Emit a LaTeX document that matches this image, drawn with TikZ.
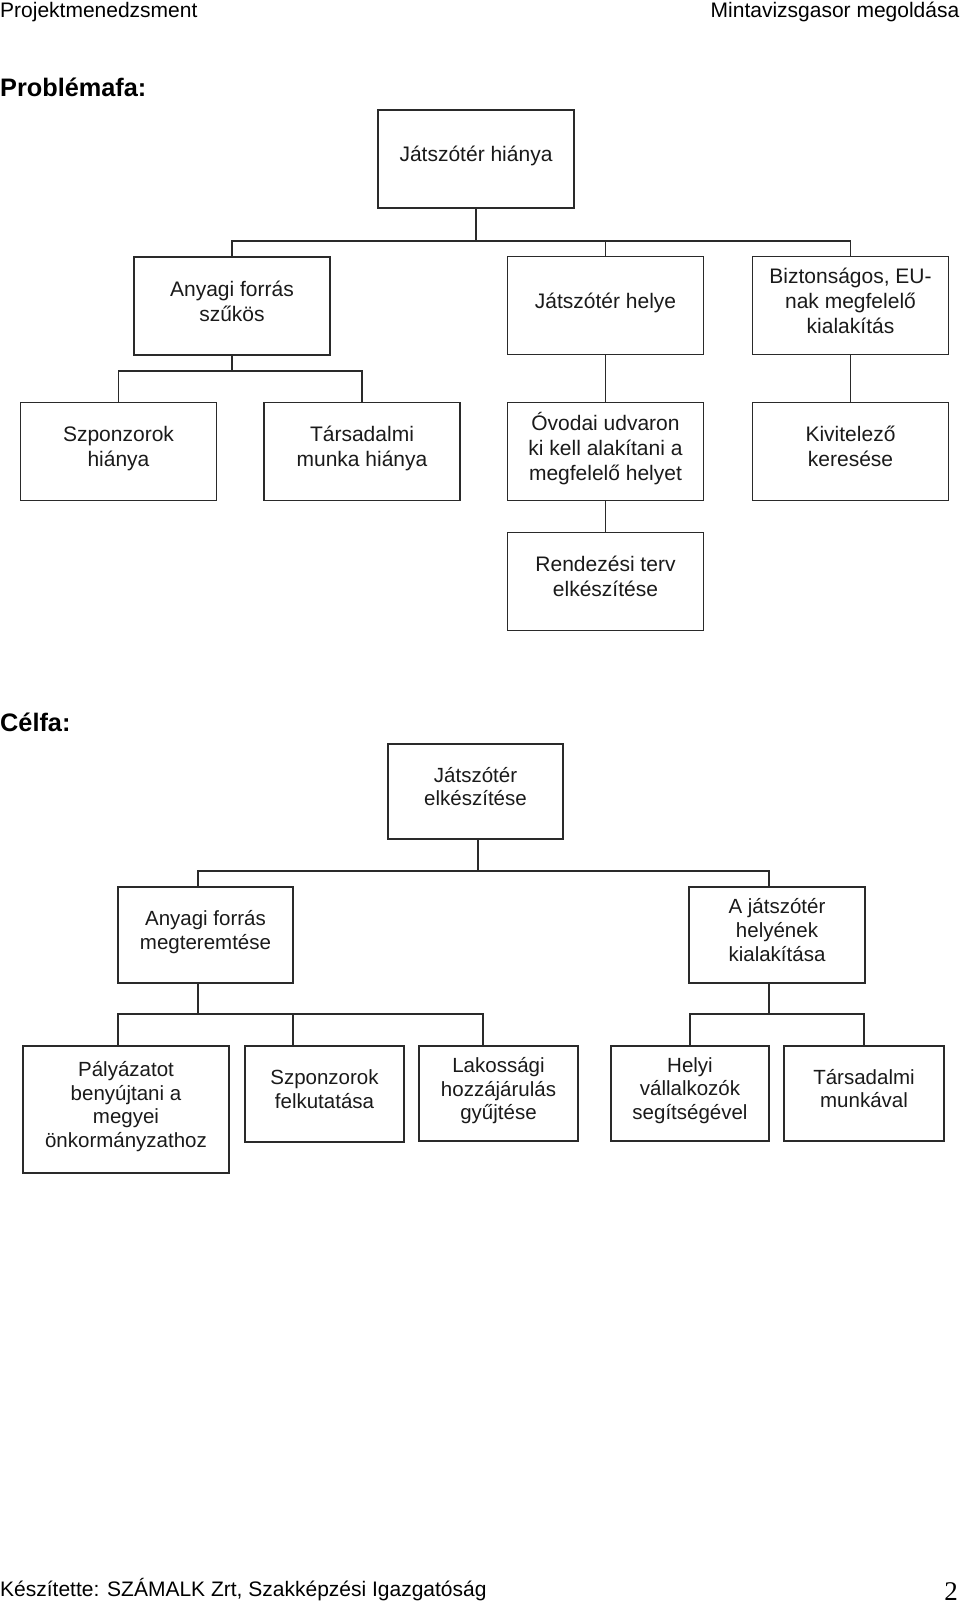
\documentclass[tikz,border=0pt]{standalone}
\usepackage{fontspec}
\setmainfont{Liberation Sans}
\newfontfamily\timesfont{Liberation Serif}
\definecolor{linec}{HTML}{2A2A2A}
\definecolor{txtc}{HTML}{1A1A1A}
\tikzset{
  pbox/.style={draw=linec, line width=1.4pt, minimum width=196pt, minimum height=98pt,
    inner sep=0pt, align=center, text=txtc, text depth=10pt, font=\fontsize{21}{25}\selectfont},
  cbox/.style={draw=linec, line width=1.4pt, inner sep=0pt, align=center, text=txtc,
    text depth=10pt, font=\fontsize{20.5}{23.8}\selectfont},
  conn/.style={draw=linec, line width=1.4pt},
  hdr/.style={anchor=base west, inner sep=0pt, text=black, font=\fontsize{21}{24}\selectfont},
  ttl/.style={anchor=base west, inner sep=0pt, text=black, font=\bfseries\fontsize{25.3}{30}\selectfont},
}
\begin{document}
\begin{tikzpicture}[x=1pt,y=-1pt]
\useasboundingbox (0,0) rectangle (960,1603);
\fill[white] (0,0) rectangle (960,1603);

% header / footer
\node[hdr] (h1) at (0,17.5) {Projektmenedzsment};
\node[hdr, anchor=base east] (h2) at (959.5,17.5) {Mintavizsgasor megoldása};
\node[ttl] (t1) at (0,96) {Problémafa:};
\node[ttl] (t2) at (0,731) {Célfa:};
\node[hdr] (f1) at (0,1596) {Készítette: SZÁMALK Zrt, Szakképzési Igazgatóság};
\node[anchor=base east, inner sep=0pt, font=\timesfont\fontsize{27}{30}\selectfont] (f2) at (958,1600) {2};

% ---------- Problémafa ----------
\node[pbox] (P0) at (476,159) {Játszótér hiánya};
\node[pbox] (P1) at (232,306) {Anyagi forrás\\szűkös};
\node[pbox] (P2) at (605.5,305.5) {Játszótér helye};
\node[pbox] (P3) at (850.5,305.5) {Biztonságos, EU-\\nak megfelelő\\kialakítás};
\node[pbox] (P11) at (118.5,451.5) {Szponzorok\\hiánya};
\node[pbox] (P12) at (362,451.5) {Társadalmi\\munka hiánya};
\node[pbox] (P21) at (605.5,451.5) {Óvodai udvaron\\ki kell alakítani a\\megfelelő helyet};
\node[pbox] (P31) at (850.5,451.5) {Kivitelező\\keresése};
\node[pbox] (P211) at (605.5,581.5) {Rendezési terv\\elkészítése};

\coordinate (pb0) at (476,241);
\coordinate (pb1) at (232,371);
\draw[conn] (P0.south) -- (pb0);
\draw[conn] (pb0) -| (P1.north);
\draw[conn] (pb0) -| (P3.north);
\draw[conn] (P2.north) -- (P2.north |- pb0);
\draw[conn] (P1.south) -- (pb1);
\draw[conn] (pb1) -| (P11.north);
\draw[conn] (pb1) -| (P12.north);
\draw[conn] (P2.south) -- (P21.north);
\draw[conn] (P21.south) -- (P211.north);
\draw[conn] (P3.south) -- (P31.north);

% ---------- Célfa ----------
\node[cbox, minimum width=175pt, minimum height=95pt] (C0) at (475.5,791.5) {Játszótér\\elkészítése};
\node[cbox, minimum width=175pt, minimum height=96pt] (C1) at (205.5,935) {Anyagi forrás\\megteremtése};
\node[cbox, minimum width=176pt, minimum height=96pt] (C2) at (777,935) {A játszótér\\helyének\\kialakítása};
\node[cbox, minimum width=206pt, minimum height=127pt] (C11) at (126,1109.5) {Pályázatot\\benyújtani a\\megyei\\önkormányzathoz};
\node[cbox, minimum width=159pt, minimum height=96pt] (C12) at (324.5,1094) {Szponzorok\\felkutatása};
\node[cbox, minimum width=159pt, minimum height=95pt] (C13) at (498.5,1093.5) {Lakossági\\hozzájárulás\\gyűjtése};
\node[cbox, minimum width=158pt, minimum height=95pt] (C21) at (690,1093.5) {Helyi\\vállalkozók\\segítségével};
\node[cbox, minimum width=160pt, minimum height=95pt] (C22) at (864,1093.5) {Társadalmi\\munkával};

\coordinate (cb0) at (478,871);
\coordinate (cb1) at (198,1014);
\coordinate (cb2) at (769,1014);
\draw[conn] ([xshift=2.5pt]C0.south) -- (cb0);
\draw[conn] (cb0) -| ([xshift=-7.5pt]C1.north);
\draw[conn] (cb0) -| ([xshift=-8pt]C2.north);
\draw[conn] ([xshift=-7.5pt]C1.south) -- (cb1);
\draw[conn] (cb1) -| ([xshift=-8pt]C11.north);
\draw[conn] (cb1) -| ([xshift=-31.5pt]C12.north);
\draw[conn] (cb1) -| ([xshift=-15.5pt]C13.north);
\draw[conn] ([xshift=-8pt]C2.south) -- (cb2);
\draw[conn] (cb2) -| (C21.north);
\draw[conn] (cb2) -| (C22.north);
\end{tikzpicture}
\end{document}
